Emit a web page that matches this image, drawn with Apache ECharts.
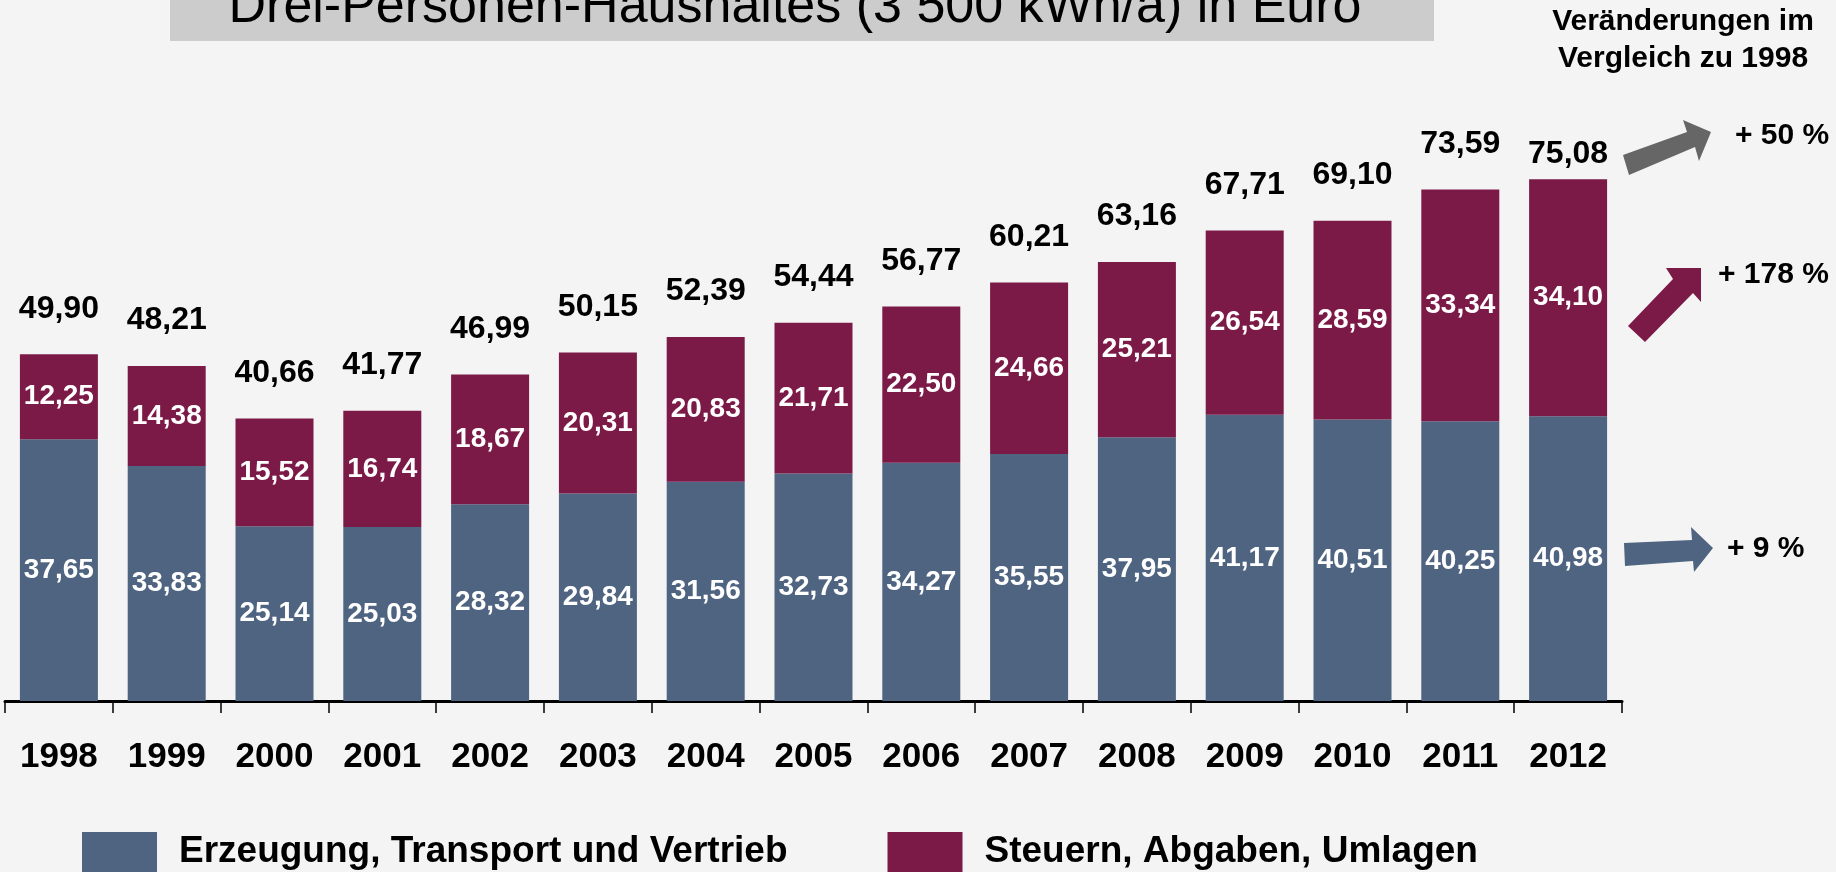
<!DOCTYPE html>
<html>
<head>
<meta charset="utf-8">
<script src="https://cdn.jsdelivr.net/npm/echarts@6/dist/echarts.min.js"></script>
<style>
html,body{margin:0;padding:0;background:#f4f4f4;}
#c{width:1836px;height:872px;}
</style>
</head>
<body>
<div id="c"></div>
<script>
const years = ['1998','1999','2000','2001','2002','2003','2004','2005','2006','2007','2008','2009','2010','2011','2012'];
const erzeugung = [37.65,33.83,25.14,25.03,28.32,29.84,31.56,32.73,34.27,35.55,37.95,41.17,40.51,40.25,40.98];
const steuern = [12.25,14.38,15.52,16.74,18.67,20.31,20.83,21.71,22.50,24.66,25.21,26.54,28.59,33.34,34.10];
const totals = [49.90,48.21,40.66,41.77,46.99,50.15,52.39,54.44,56.77,60.21,63.16,67.71,69.10,73.59,75.08];
const changes = ['+ 50 %','+ 178 %','+ 9 %'];

const BLUE = '#4e6480';
const PURPLE = '#7c1a47';
const FONT = 'Liberation Sans, Arial, sans-serif';

const fmt = v => v.toFixed(2).replace('.', ',');

const chart = echarts.init(document.getElementById('c'), null, {renderer:'canvas'});
chart.setOption({
  backgroundColor: '#f4f4f4',
  animation: false,
  textStyle: {fontFamily: FONT},
  grid: {left: 5, right: 214, top: 145, bottom: 171, containLabel: false},
  legend: {
    data: ['Erzeugung, Transport und Vertrieb', 'Steuern, Abgaben, Umlagen'],
    left: 82, top: 832, padding: 0,
    itemWidth: 75, itemHeight: 40, itemGap: 100,
    icon: 'rect',
    textStyle: {fontSize: 37, fontWeight: 'bold', color: '#000', fontFamily: FONT, padding: [0,0,0,17]}
  },
  xAxis: {
    type: 'category',
    data: years,
    axisLine: {show: true, lineStyle: {color: '#000', width: 3}},
    axisTick: {show: true, length: 12, lineStyle: {color: '#000', width: 1.5}},
    axisLabel: {fontSize: 35, fontWeight: 'bold', color: '#000', margin: 39, fontFamily: FONT}
  },
  yAxis: {type: 'value', min: 0, max: 80, show: false, splitLine: {show: false}},
  series: [
    {
      name: 'Erzeugung, Transport und Vertrieb', type: 'bar', stack: 'a',
      data: erzeugung, barWidth: 78, itemStyle: {color: BLUE},
      label: {show: true, position: 'inside', color: '#fff', fontSize: 28, fontWeight: 'bold', fontFamily: FONT, formatter: p => fmt(p.value)}
    },
    {
      name: 'Steuern, Abgaben, Umlagen', type: 'bar', stack: 'a',
      data: steuern, barWidth: 78, itemStyle: {color: PURPLE},
      label: {show: true, position: 'inside', color: '#fff', fontSize: 28, fontWeight: 'bold', fontFamily: FONT, formatter: p => fmt(p.value)}
    },
    {
      name: 'Summe', type: 'scatter', symbolSize: 1,
      itemStyle: {color: 'rgba(0,0,0,0)', opacity: 1},
      silent: true,
      data: totals.map((v, i) => i === totals.length - 1 ? {value: v, label: {distance: 9}} : v),
      label: {show: true, position: 'top', distance: 29, color: '#000', opacity: 1, fontSize: 32, fontWeight: 'bold', fontFamily: FONT, formatter: p => fmt(p.value)}
    }
  ],
  graphic: [
    {type: 'rect', shape: {x: 170, y: 0, width: 1264, height: 41}, style: {fill: '#cccccc'}, z: 1},
    {type: 'text', x: 795, y: 8, z: 2, style: {text: 'Drei-Personen-Haushaltes (3 500 kWh/a) in Euro', fontSize: 52, fontFamily: FONT, fill: '#000', align: 'center', verticalAlign: 'middle'}},
    {type: 'text', x: 1683, y: 22, style: {text: 'Veränderungen im', fontSize: 30, fontWeight: 'bold', fontFamily: FONT, fill: '#000', align: 'center', verticalAlign: 'middle'}},
    {type: 'text', x: 1683, y: 59, style: {text: 'Vergleich zu 1998', fontSize: 30, fontWeight: 'bold', fontFamily: FONT, fill: '#000', align: 'center', verticalAlign: 'middle'}},
    {type: 'text', x: 1735, y: 136, style: {text: changes[0], fontSize: 30, fontWeight: 'bold', fontFamily: FONT, fill: '#000', align: 'left', verticalAlign: 'middle'}},
    {type: 'text', x: 1718, y: 275, style: {text: changes[1], fontSize: 30, fontWeight: 'bold', fontFamily: FONT, fill: '#000', align: 'left', verticalAlign: 'middle'}},
    {type: 'text', x: 1727, y: 549, style: {text: changes[2], fontSize: 30, fontWeight: 'bold', fontFamily: FONT, fill: '#000', align: 'left', verticalAlign: 'middle'}},
    {type: 'polygon', shape: {points: [[1623,155],[1687,132],[1683,120],[1711,132],[1699,161],[1695,147],[1629,175]]}, style: {fill: '#666666'}},
    {type: 'polygon', shape: {points: [[1628,326],[1673,279],[1666,268],[1701,268],[1701,302],[1693,293],[1645,342]]}, style: {fill: PURPLE}},
    {type: 'polygon', shape: {points: [[1624,543],[1692,540],[1691,527],[1713,548],[1694,572],[1693,561],[1625,566]]}, style: {fill: BLUE}}
  ]
});
</script>
</body>
</html>
